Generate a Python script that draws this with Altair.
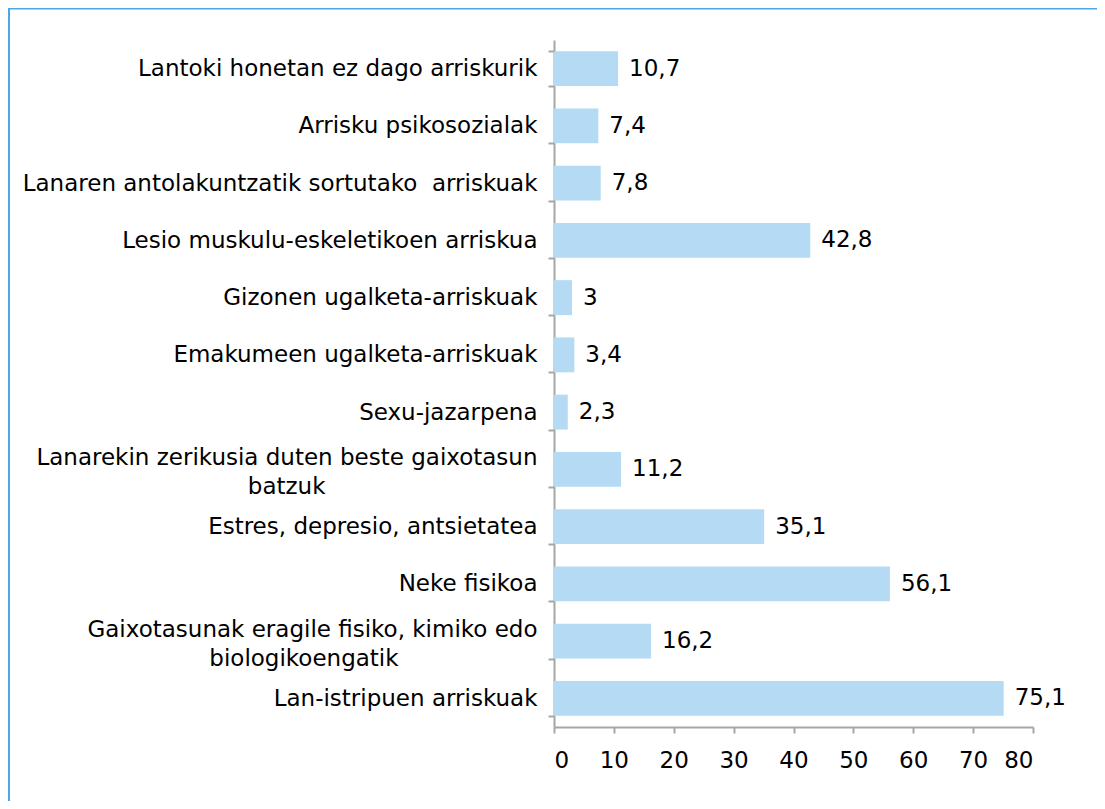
import altair as alt
import pandas as pd

categories = [
    "Lantoki honetan ez dago arriskurik",
    "Arrisku psikosozialak",
    "Lanaren antolakuntzatik sortutako\u00a0 arriskuak",
    "Lesio muskulu-eskeletikoen arriskua",
    "Gizonen ugalketa-arriskuak",
    "Emakumeen ugalketa-arriskuak",
    "Sexu-jazarpena",
    "Lanarekin zerikusia duten beste gaixotasun\nbatzuk",
    "Estres, depresio, antsietatea",
    "Neke fisikoa",
    "Gaixotasunak eragile fisiko, kimiko edo\nbiologikoengatik",
    "Lan-istripuen arriskuak",
]
values = [10.7, 7.4, 7.8, 42.8, 3, 3.4, 2.3, 11.2, 35.1, 56.1, 16.2, 75.1]
x_ticks = [0, 10, 20, 30, 40, 50, 60, 70, 80]

FONT = "DejaVu Sans"
FS = 23
GREY = "#a6a6a6"
BORDER = "#4ea6e2"


def center_lines(label):
    # pad following lines with non-breaking spaces (ended by a zero-width char
    # so they are not trimmed) so right-aligned text looks centred
    lines = label.split("\n")
    if len(lines) == 1:
        return label
    first = lines[0]
    out = [first]
    char_w = 0.52 * FS
    nbsp_w = 0.318 * FS
    for ln in lines[1:]:
        diff = (len(first) - len(ln)) * char_w / 2
        out.append(ln + "\u00a0" * int(round(diff / nbsp_w)) + "\u200b")
    return "\n".join(out)


display = [center_lines(c) for c in categories]
df = pd.DataFrame({"cat": display, "value": values, "order": list(range(len(values)))})
df["lab"] = [str(v).replace(".", ",") if v != int(v) else str(int(v)) for v in values]

W, H = 479, 687
PL, PT = 546, 32
PR = 1089 - PL - W
PB = 793 - PT - H
LH = 29

base = alt.Chart(df)
sort_y = alt.EncodingSortField(field="order", order="ascending")

y_enc = alt.Y(
    "cat:N",
    sort=sort_y,
    title=None,
    scale=alt.Scale(paddingInner=0.39, paddingOuter=0.195),
    axis=alt.Axis(
        labelExpr="split(datum.label, '\\n')",
        labelFont=FONT,
        labelFontSize=FS,
        labelColor="#000000",
        labelLineHeight=LH,
        labelPadding=11,
        labelLimit=600,
        labelOffset={
            "condition": {"test": "indexof(datum.label, '\\n') >= 0", "value": -LH / 2 + 3},
            "value": 0,
        },
        tickBand="extent",
        tickSize=6,
        tickWidth=2,
        tickColor=GREY,
        domainColor=GREY,
        domainWidth=2,
        grid=False,
    ),
)

x_enc = alt.X(
    "value:Q",
    title=None,
    scale=alt.Scale(domain=[0, 80], nice=False, zero=True),
    axis=alt.Axis(
        values=x_ticks,
        labelFont=FONT,
        labelFontSize=FS,
        labelColor="#000000",
        labelPadding=16,
        tickSize=6,
        tickWidth=2,
        tickColor=GREY,
        domainColor=GREY,
        domainWidth=2,
        grid=False,
    ),
)

bars = base.mark_bar(color="#b4dbf3").encode(x=x_enc, y=y_enc)

labels = base.mark_text(
    align="left", baseline="middle", dx=11, font=FONT, fontSize=FS, color="#000000"
).encode(
    x="value:Q",
    y=alt.Y("cat:N", sort=sort_y),
    text="lab:N",
)

# decorative frame (left and top edges, as in the reference)
frame = pd.DataFrame({"a": [0]})
border_left = alt.Chart(frame).mark_rect(color=BORDER).encode(
    x=alt.value(-PL), x2=alt.value(-PL + 2), y=alt.value(-PT), y2=alt.value(H + PB)
)
border_top = alt.Chart(frame).mark_rect(color=BORDER).encode(
    x=alt.value(-PL), x2=alt.value(W + PR), y=alt.value(-PT), y2=alt.value(-PT + 1.5)
)

chart = (
    alt.layer(bars, labels, border_left, border_top)
    .properties(
        width=W,
        height=H,
        background="white",
        autosize=alt.AutoSizeParams(type="none"),
        padding={"left": PL, "top": PT, "right": PR, "bottom": PB},
    )
    .configure_view(strokeWidth=0, stroke="transparent")
)

chart.save("out.html", embed_options={"renderer": "svg", "actions": False})
